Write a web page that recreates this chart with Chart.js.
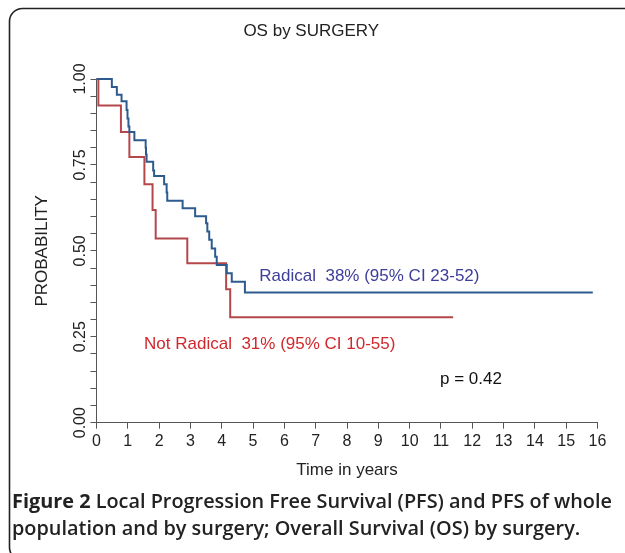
<!DOCTYPE html>
<html>
<head>
<meta charset="utf-8">
<script src="https://cdn.jsdelivr.net/npm/chart.js@4.4.1/dist/chart.umd.min.js"></script>
<style>
    html, body { margin: 0; padding: 0; background: #fff; }
    #osChart { display: block; }
</style>
</head>
<body>
<canvas id="osChart" width="625" height="553"></canvas>
<script>
//..Kaplan-Meier steps (time in years, probability)
const radicalTimes = [0, 0.49, 0.65, 0.80, 0.96, 0.99, 1.02, 1.05, 1.21, 1.57, 1.58, 1.60, 1.81, 1.84, 2.16, 2.24, 2.26, 2.75, 3.15, 3.50, 3.54, 3.60, 3.68, 3.79, 3.84, 4.16, 4.32, 4.74, 15.85];
const radicalSurv  = [1.00, 0.977, 0.954, 0.935, 0.910, 0.885, 0.862, 0.846, 0.822, 0.800, 0.780, 0.759, 0.734, 0.718, 0.694, 0.670, 0.646, 0.624, 0.601, 0.580, 0.556, 0.532, 0.507, 0.483, 0.459, 0.435, 0.410, 0.379, 0.379];

const notRadicalTimes = [0, 0.06, 0.78, 1.05, 1.53, 1.79, 1.89, 2.90, 4.14, 4.27, 11.39];
const notRadicalSurv  = [1.00, 0.923, 0.846, 0.773, 0.694, 0.619, 0.536, 0.464, 0.388, 0.307, 0.307];

const xTicks = [0, 16, 1];        // min, max, step
const yTicks = [0, 1, 0.05];      // min, max, step (labels every 0.25)

const radicalLabel = 'Radical  38% (95% CI 23-52)';
const notRadicalLabel = 'Not Radical  31% (95% CI 10-55)';
const pLabel = 'p = 0.42';
const captionBold = 'Figure 2';
const captionLines = [
    ' Local Progression Free Survival (PFS) and PFS of whole',
    'population and by surgery; Overall Survival (OS) by surgery.'
];

const toPoints = (xs, ys) => xs.map((x, i) => ({ x: x, y: ys[i] }));

//..frame, annotations and caption
const decorPlugin = {
    id: 'decor',
    afterDraw(chart) {
        const ctx = chart.ctx;
        const xs = chart.scales.x;
        const ys = chart.scales.y;
        ctx.save();

        //..rounded frame (right and bottom run off the page)
        ctx.strokeStyle = '#222';
        ctx.lineWidth = 1.6;
        ctx.beginPath();
        ctx.roundRect(9.5, 8.5, 640, 552, 13);
        ctx.stroke();

        ctx.font = '17px "Liberation Sans", Arial, sans-serif';
        ctx.textBaseline = 'alphabetic';
        ctx.textAlign = 'left';
        ctx.fillStyle = '#3d3d9b';
        ctx.fillText(radicalLabel, xs.getPixelForValue(5.2), ys.getPixelForValue(0.413));
        ctx.fillStyle = '#d0282c';
        ctx.fillText(notRadicalLabel, xs.getPixelForValue(1.52), ys.getPixelForValue(0.214));
        ctx.fillStyle = '#111';
        ctx.fillText(pLabel, xs.getPixelForValue(10.97), ys.getPixelForValue(0.112));

        //..caption, sized so the first line spans the frame
        ctx.fillStyle = '#222';
        ctx.font = '700 17px "Open Sans", sans-serif';
        const wBold = ctx.measureText(captionBold).width;
        ctx.font = '600 17px "Open Sans", sans-serif';
        const wRest = ctx.measureText(captionLines[0]).width;
        const size = 17 * 600 / (wBold + wRest);
        ctx.font = `700 ${size}px "Open Sans", sans-serif`;
        ctx.fillText(captionBold, 12, 508);
        const bw = ctx.measureText(captionBold).width;
        ctx.font = `600 ${size}px "Open Sans", sans-serif`;
        ctx.fillText(captionLines[0], 12 + bw, 508);
        ctx.fillText(captionLines[1], 12, 535);

        ctx.restore();
    }
};

new Chart(document.getElementById('osChart'), {
    type: 'line',
    data: {
        datasets: [
            {
                label: 'Radical',
                data: toPoints(radicalTimes, radicalSurv),
                borderColor: '#2d5b8e',
                borderWidth: 2,
                stepped: true,
                pointRadius: 0,
                fill: false,
                clip: 6
            },
            {
                label: 'Not Radical',
                data: toPoints(notRadicalTimes, notRadicalSurv),
                borderColor: '#b4474a',
                borderWidth: 2,
                stepped: true,
                pointRadius: 0,
                fill: false,
                clip: 6
            }
        ]
    },
    options: {
        responsive: false,
        animation: false,
        devicePixelRatio: 1,
        layout: {
            padding: { left: 25, right: 27.5, top: 0, bottom: 70.3 }
        },
        plugins: {
            legend: { display: false },
            tooltip: { enabled: false },
            title: {
                display: true,
                text: 'OS by SURGERY',
                color: '#222',
                font: { family: '"Liberation Sans", Arial, sans-serif', size: 17, weight: 'normal' },
                padding: { top: 21, bottom: 37.6 }
            }
        },
        scales: {
            x: {
                type: 'linear',
                min: xTicks[0],
                max: xTicks[1],
                afterFit(scale) { scale.height = 60; },
                border: { display: true, color: '#555', width: 1 },
                grid: { drawOnChartArea: false, drawTicks: true, tickLength: 6, tickColor: '#555' },
                ticks: {
                    stepSize: xTicks[2],
                    padding: 3,
                    color: '#222',
                    maxRotation: 0,
                    autoSkip: false,
                    font: { family: '"Liberation Sans", Arial, sans-serif', size: 16 }
                },
                title: {
                    display: true,
                    text: 'Time in years',
                    color: '#222',
                    font: { family: '"Liberation Sans", Arial, sans-serif', size: 17 },
                    padding: { top: 0, bottom: 2.5 }
                }
            },
            y: {
                type: 'linear',
                min: yTicks[0],
                max: yTicks[1],
                afterFit(scale) { scale.width = 71.5; },
                border: { display: true, color: '#555', width: 1 },
                grid: { drawOnChartArea: false, drawTicks: true, tickLength: 6, tickColor: '#555' },
                ticks: {
                    stepSize: yTicks[2],
                    autoSkip: false,
                    minRotation: 90,
                    maxRotation: 90,
                    crossAlign: 'center',
                    padding: -5.5,
                    color: '#222',
                    font: { family: '"Liberation Sans", Arial, sans-serif', size: 16 },
                    callback(value) {
                        const q = value * 4;
                        return Math.abs(q - Math.round(q)) < 1e-6 ? value.toFixed(2) : '';
                    }
                },
                title: {
                    display: true,
                    text: 'PROBABILITY',
                    color: '#222',
                    font: { family: '"Liberation Sans", Arial, sans-serif', size: 17 },
                    padding: { top: 6.8, bottom: 0 }
                }
            }
        }
    },
    plugins: [decorPlugin]
});
</script>
</body>
</html>
